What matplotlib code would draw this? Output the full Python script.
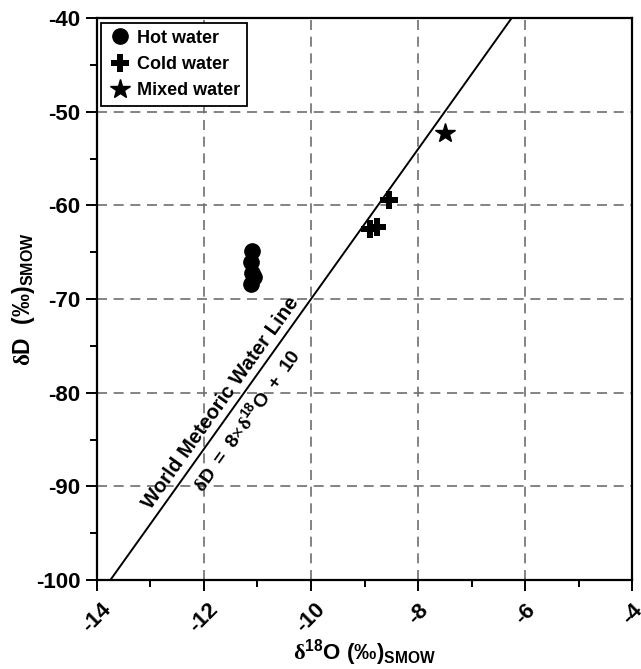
import numpy as np
import matplotlib
matplotlib.use('Agg')
import matplotlib.pyplot as plt
from matplotlib.ticker import MultipleLocator

plt.rcParams['font.family'] = ['Liberation Sans', 'DejaVu Sans']
plt.rcParams['font.weight'] = 'bold'
plt.rcParams['axes.unicode_minus'] = False
plt.rcParams['mathtext.fontset'] = 'custom'
plt.rcParams['mathtext.rm'] = 'Liberation Serif'
plt.rcParams['mathtext.bf'] = 'Liberation Sans:bold'
plt.rcParams['mathtext.it'] = 'Liberation Sans:italic'

# isotope data (per mil vs SMOW)
hotO = [-11.10, -11.12, -11.10, -11.06, -11.12]
hotD = [-64.9, -66.0, -67.2, -67.6, -68.4]
coldO = [-8.54, -8.76, -8.89]
coldD = [-59.4, -62.3, -62.5]
mixedO = [-7.5]
mixedD = [-52.3]

# world meteoric water line: dD = 8 * d18O + 10
gmwlSlope = 8
gmwlIntercept = 10
gmwlO = [-14, -4]
labelO = -11.48

fig = plt.figure(figsize=(6.41, 6.69), dpi=100)
ax = fig.add_axes([0.1513, 0.133, 0.8347, 0.840])

lineO = np.array(gmwlO, dtype=float)
ax.plot(lineO, gmwlSlope * lineO + gmwlIntercept, color='black', lw=1.4, zorder=2)

ax.plot(hotO, hotD, 'o', color='black', ms=11, ls='none', label='Hot water', zorder=3)
ax.plot(coldO, coldD, 'P', color='black', ms=13, mew=0, ls='none', label='Cold water', zorder=3)
ax.plot(mixedO, mixedD, '*', color='black', ms=15, ls='none', label='Mixed water', zorder=3)

ax.set_xlim(-14, -4)
ax.set_ylim(-100, -40)
ax.xaxis.set_major_locator(MultipleLocator(2))
ax.xaxis.set_minor_locator(MultipleLocator(1))
ax.yaxis.set_major_locator(MultipleLocator(10))
ax.yaxis.set_minor_locator(MultipleLocator(5))
ax.tick_params(which='major', direction='out', length=8, width=1.4, labelsize=16)
ax.tick_params(which='minor', direction='out', length=5, width=1.4)
ax.tick_params(axis='x', pad=6, labelrotation=45)
ax.tick_params(axis='y', pad=4)

for sp in ax.spines.values():
    sp.set_linewidth(1.6)

ax.grid(True, which='major', color='#6e6e6e', ls=(0, (6, 4)), lw=1.2, zorder=0)

ax.set_xlabel(r'$\mathrm{δ}^{\mathbf{18}}\mathbf{O\ (‰)}_{\mathbf{SMOW}}$', fontsize=16, labelpad=0)
ax.set_ylabel(r'$\mathrm{δ}\mathbf{D\ \ (‰)}_{\mathbf{SMOW}}$', fontsize=16.5, labelpad=-1)

# labels along the line, rotated to its on-screen slope
p0 = ax.transData.transform((gmwlO[0], gmwlSlope * gmwlO[0] + gmwlIntercept))
p1 = ax.transData.transform((gmwlO[1], gmwlSlope * gmwlO[1] + gmwlIntercept))
ang = np.degrees(np.arctan2(p1[1] - p0[1], p1[0] - p0[0]))
nx, ny = -np.sin(np.radians(ang)), np.cos(np.radians(ang))
anchor = (labelO, gmwlSlope * labelO + gmwlIntercept)

ax.annotate('World Meteoric Water Line', xy=anchor, xytext=(2.5 * nx, 2.5 * ny),
            textcoords='offset points', fontsize=14.7, fontweight='bold',
            rotation=ang, rotation_mode='anchor', ha='center', va='bottom')
ax.annotate(r'$\mathrm{δ}\mathbf{D\ =\ 8}\mathrm{×δ}^{\mathbf{18}}\mathbf{O\ +\ 10}$',
            xy=anchor, xytext=(-5 * nx, -5 * ny), textcoords='offset points',
            fontsize=14, rotation=ang, rotation_mode='anchor', ha='center', va='top')

leg = ax.legend(loc='upper left', fontsize=13, frameon=True, fancybox=False,
                edgecolor='black', framealpha=1, borderaxespad=0.25, handletextpad=0.35,
                borderpad=0.4, labelspacing=0.5, handlelength=1.2)
leg.get_frame().set_linewidth(1.3)

fig.savefig('out.png', dpi=100)
